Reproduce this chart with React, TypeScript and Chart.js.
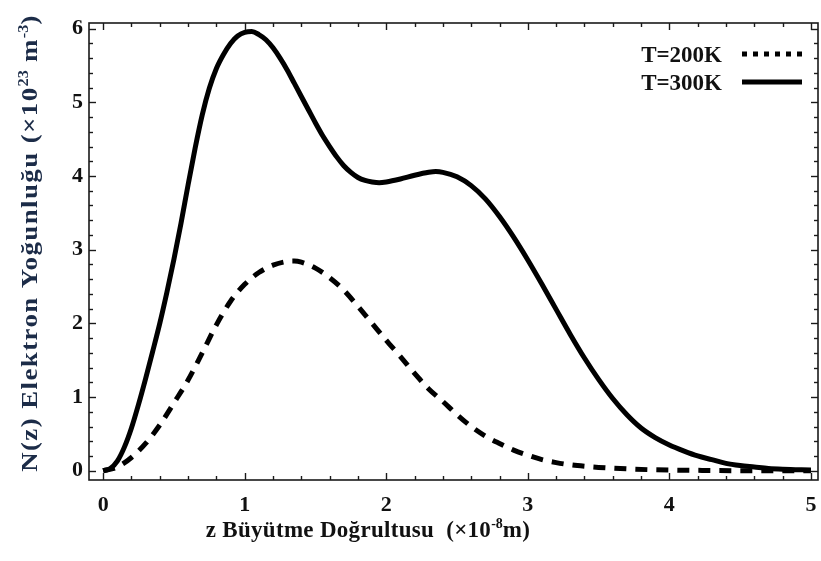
import React, { useEffect, useRef } from 'react';
import { Chart, registerables } from 'chart.js';

Chart.register(...registerables);

// ---- data ----
const SERIES_LABELS = ['T=200K', 'T=300K'];

const X_300 = [0, 0.05, 0.1, 0.15, 0.2, 0.25, 0.3, 0.35, 0.4, 0.45, 0.5, 0.55, 0.6, 0.65, 0.7, 0.75, 0.8, 0.85, 0.9, 0.95, 1.0, 1.05, 1.1, 1.15, 1.2, 1.25, 1.3, 1.35, 1.4, 1.45, 1.5, 1.55, 1.6, 1.65, 1.7, 1.75, 1.8, 1.85, 1.9, 1.95, 2.0, 2.1, 2.2, 2.3, 2.35, 2.4, 2.5, 2.6, 2.7, 2.8, 2.9, 3.0, 3.1, 3.2, 3.3, 3.4, 3.5, 3.6, 3.7, 3.8, 3.9, 4.0, 4.1, 4.2, 4.3, 4.4, 4.5, 4.6, 4.7, 4.8, 5.0];
const Y_300 = [0, 0.03, 0.13, 0.32, 0.58, 0.9, 1.25, 1.62, 2.0, 2.42, 2.87, 3.36, 3.88, 4.38, 4.83, 5.19, 5.46, 5.65, 5.8, 5.9, 5.95, 5.96, 5.92, 5.85, 5.74, 5.6, 5.44, 5.26, 5.08, 4.9, 4.72, 4.55, 4.4, 4.26, 4.14, 4.05, 3.98, 3.94, 3.92, 3.91, 3.92, 3.96, 4.01, 4.05, 4.06, 4.05, 3.99, 3.87, 3.69, 3.45, 3.17, 2.86, 2.53, 2.19, 1.85, 1.53, 1.24, 0.98, 0.76, 0.58, 0.45, 0.35, 0.27, 0.2, 0.15, 0.1, 0.07, 0.05, 0.03, 0.02, 0.01];

const X_200 = [0, 0.1, 0.2, 0.3, 0.4, 0.5, 0.6, 0.7, 0.8, 0.9, 1.0, 1.1, 1.2, 1.3, 1.35, 1.4, 1.5, 1.6, 1.7, 1.8, 1.9, 2.0, 2.1, 2.2, 2.3, 2.4, 2.5, 2.6, 2.7, 2.8, 2.9, 3.0, 3.1, 3.2, 3.3, 3.4, 3.5, 3.7, 3.9, 4.2, 4.6, 5.0];
const Y_200 = [0, 0.05, 0.18, 0.37, 0.62, 0.92, 1.23, 1.6, 1.98, 2.3, 2.53, 2.69, 2.79, 2.84, 2.845, 2.83, 2.75, 2.62, 2.45, 2.23, 2.0, 1.77, 1.55, 1.32, 1.11, 0.94, 0.76, 0.6, 0.47, 0.37, 0.28, 0.21, 0.15, 0.11, 0.08, 0.06, 0.045, 0.025, 0.012, 0.005, 0, 0];

const X_TICKS = [0, 1, 2, 3, 4, 5];
const Y_TICKS = [0, 1, 2, 3, 4, 5, 6];
const MINOR_PER_MAJOR = 5;
const X_LIMITS = [-0.1, 5.05];
const Y_LIMITS = [-0.126, 6.077];

// rich titles: [text, isSuperscript]
const X_TITLE: [string, boolean][] = [['z Büyütme Doğrultusu  (×10', false], ['-8', true], ['m)', false]];
const Y_TITLE: [string, boolean][] = [['N(z) Elektron Yoğunluğu (×10', false], ['23', true], [' m', false], ['-3', true], [')', false]];

const FONT = '"Liberation Serif", "Times New Roman", serif';

function setFont(ctx: any, size: number, sup: boolean, spacing: number) {
  ctx.font = `bold ${sup ? Math.round(size * 0.62) : size}px ${FONT}`;
  ctx.letterSpacing = `${sup ? 0 : spacing}px`;
}

function richWidth(ctx: CanvasRenderingContext2D, segs: [string, boolean][], size: number, spacing: number) {
  let w = 0;
  for (const [t, sup] of segs) {
    setFont(ctx, size, sup, spacing);
    w += ctx.measureText(t).width;
  }
  return w;
}

function drawRich(ctx: CanvasRenderingContext2D, segs: [string, boolean][], x: number, y: number, size: number, spacing: number) {
  let cx = x;
  ctx.textAlign = 'left';
  ctx.textBaseline = 'alphabetic';
  for (const [t, sup] of segs) {
    setFont(ctx, size, sup, spacing);
    ctx.fillText(t, cx, sup ? y - size * 0.4 : y);
    cx += ctx.measureText(t).width;
  }
  (ctx as any).letterSpacing = '0px';
}

const framePlugin = {
  id: 'frameTicks',
  afterDatasetsDraw(chart: any) {
    const { ctx, chartArea: a, scales } = chart;
    const xs = scales.x;
    const ys = scales.y;
    ctx.save();
    ctx.strokeStyle = '#1a1a1a';
    ctx.lineWidth = 1.6;
    ctx.lineCap = 'butt';
    ctx.strokeRect(a.left, a.top, a.right - a.left, a.bottom - a.top);
    const seg = (x1: number, y1: number, x2: number, y2: number) => {
      ctx.beginPath();
      ctx.moveTo(x1, y1);
      ctx.lineTo(x2, y2);
      ctx.stroke();
    };
    ctx.lineWidth = 1.4;
    const xStep = (X_TICKS[1] - X_TICKS[0]) / MINOR_PER_MAJOR;
    const nx = (X_TICKS.length - 1) * MINOR_PER_MAJOR;
    for (let i = 0; i <= nx; i++) {
      const v = X_TICKS[0] + i * xStep;
      const len = i % MINOR_PER_MAJOR === 0 ? 7 : 4;
      const p = Math.round(xs.getPixelForValue(v)) + 0.5;
      seg(p, a.bottom, p, a.bottom - len);
      seg(p, a.top, p, a.top + len);
    }
    const yStep = (Y_TICKS[1] - Y_TICKS[0]) / MINOR_PER_MAJOR;
    const ny = (Y_TICKS.length - 1) * MINOR_PER_MAJOR;
    for (let i = 0; i <= ny; i++) {
      const v = Y_TICKS[0] + i * yStep;
      const len = i % MINOR_PER_MAJOR === 0 ? 7 : 4;
      const p = Math.round(ys.getPixelForValue(v)) + 0.5;
      seg(a.left, p, a.left + len, p);
      seg(a.right, p, a.right - len, p);
    }
    ctx.restore();
  },
  afterDraw(chart: any) {
    const { ctx, chartArea: a } = chart;
    ctx.save();
    const size = 23;
    // x title
    ctx.fillStyle = '#111111';
    const wx = richWidth(ctx, X_TITLE, size, 0.3);
    drawRich(ctx, X_TITLE, a.left + 279 - wx / 2, a.bottom + 57, size, 0.3);
    // y title (rotated, slightly stretched along its direction)
    ctx.fillStyle = '#1c2c48';
    const stretch = 1.17;
    const wy = richWidth(ctx, Y_TITLE, size, 1.2);
    ctx.translate(a.left - 52, a.top + 220);
    ctx.rotate(-Math.PI / 2);
    ctx.scale(stretch, 1);
    drawRich(ctx, Y_TITLE, -wy / 2, 0, size, 1.2);
    ctx.restore();

    // legend inside plot, samples to the right of the labels
    ctx.save();
    const ds = chart.data.datasets;
    ctx.font = `bold 23px ${FONT}`;
    ctx.textAlign = 'right';
    ctx.textBaseline = 'alphabetic';
    ctx.fillStyle = '#111111';
    const rows = [a.top + 39, a.top + 67];
    ds.forEach((d: any, i: number) => {
      const base = rows[i];
      ctx.fillText(d.label, a.right - 96, base);
      ctx.strokeStyle = '#000000';
      ctx.lineWidth = 5;
      ctx.setLineDash(i === 0 ? [5, 6] : []);
      ctx.beginPath();
      ctx.moveTo(a.right - 76, base - 8);
      ctx.lineTo(a.right - 16, base - 8);
      ctx.stroke();
    });
    ctx.restore();
  },
};

export default function App() {
  const ref = useRef<HTMLCanvasElement | null>(null);
  useEffect(() => {
    document.body.style.margin = '0';
    const canvas = ref.current;
    if (!canvas) return;
    const chart = new Chart(canvas, {
      type: 'line',
      data: {
        datasets: [
          {
            label: SERIES_LABELS[0],
            data: X_200.map((x, i) => ({ x, y: Y_200[i] })),
            borderColor: '#000000',
            borderWidth: 5,
            borderDash: [12, 9],
            pointRadius: 0,
            fill: false,
            cubicInterpolationMode: 'monotone',
          },
          {
            label: SERIES_LABELS[1],
            data: X_300.map((x, i) => ({ x, y: Y_300[i] })),
            borderColor: '#000000',
            borderWidth: 5,
            pointRadius: 0,
            fill: false,
            cubicInterpolationMode: 'monotone',
          },
        ],
      },
      options: {
        animation: false,
        responsive: false,
        devicePixelRatio: 1,
        layout: { padding: { top: 23, right: 3, left: 0, bottom: 0 } },
        plugins: {
          legend: { display: false },
          tooltip: { enabled: false },
        },
        scales: {
          x: {
            type: 'linear',
            min: X_LIMITS[0],
            max: X_LIMITS[1],
            grid: { display: false, drawTicks: false },
            border: { display: false },
            afterBuildTicks: (s: any) => {
              s.ticks = X_TICKS.map((v) => ({ value: v }));
            },
            afterFit: (s: any) => {
              s.height = 81;
              s.paddingLeft = 0;
              s.paddingRight = 0;
            },
            ticks: {
              padding: 12,
              color: '#111111',
              font: { family: FONT, size: 22, weight: 'bold' },
              maxRotation: 0,
              callback: (v: any) => String(v),
            },
          },
          y: {
            type: 'linear',
            min: Y_LIMITS[0],
            max: Y_LIMITS[1],
            grid: { display: false, drawTicks: false },
            border: { display: false },
            afterBuildTicks: (s: any) => {
              s.ticks = Y_TICKS.map((v) => ({ value: v }));
            },
            afterFit: (s: any) => {
              s.width = 89;
              s.paddingTop = 0;
              s.paddingBottom = 0;
            },
            ticks: {
              padding: 6,
              color: '#111111',
              font: { family: FONT, size: 22, weight: 'bold' },
              callback: (v: any) => String(v),
            },
          },
        },
      },
      plugins: [framePlugin],
    } as any);
    return () => chart.destroy();
  }, []);
  return <canvas ref={ref} width={821} height={561} style={{ display: 'block' }} />;
}
